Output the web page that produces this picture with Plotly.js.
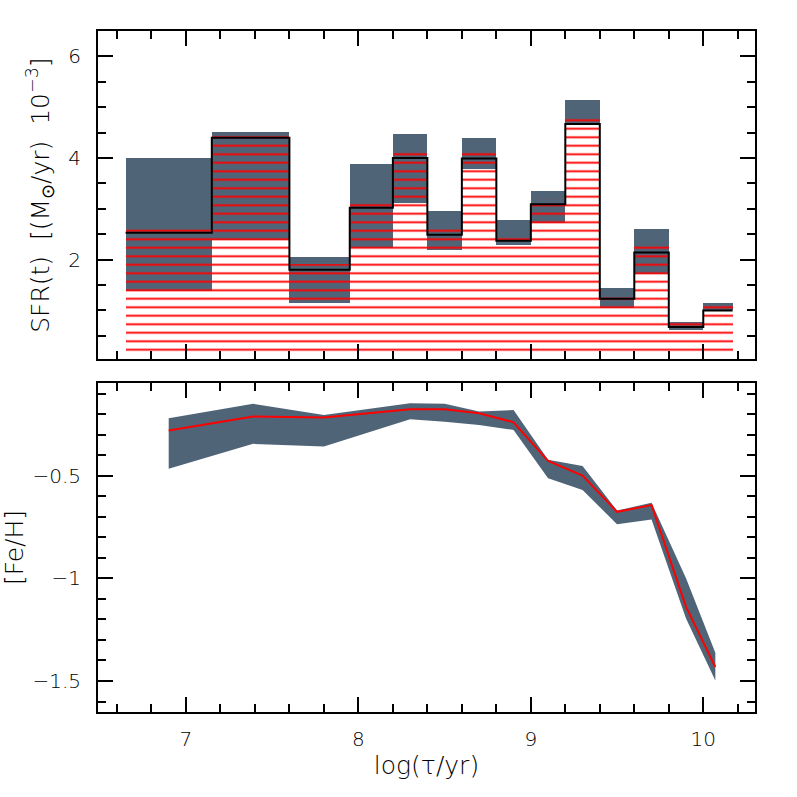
<!DOCTYPE html>
<html>
<head>
<meta charset="utf-8">
<script src="https://cdn.plot.ly/plotly-3.0.1.min.js"></script>
<style>html,body{margin:0;padding:0;background:#fff;}#chart{width:797px;height:797px;}</style>
</head>
<body>
<div id="chart"></div>
<script>
// ---- SFR histogram (top panel) ----
const binEdges = [6.65, 7.15, 7.60, 7.95, 8.20, 8.40, 8.60, 8.80, 9.00, 9.20, 9.40, 9.60, 9.80, 10.00, 10.17];
const sfr      = [2.53, 4.40, 1.80, 3.02, 4.00, 2.49, 3.99, 2.37, 3.09, 4.67, 1.23, 2.14, 0.675, 1.00];
const sfrUpper = [4.00, 4.52, 2.05, 3.89, 4.48, 2.95, 4.39, 2.79, 3.36, 5.15, 1.44, 2.61, 0.77, 1.15];
const sfrLower = [1.38, 2.38, 1.15, 2.23, 3.11, 2.19, 3.78, 2.28, 2.73, 4.67, 1.04, 1.71, 0.62, 1.00];

// ---- Age-metallicity relation (bottom panel) ----
const logAge   = [6.90, 7.39, 7.80, 8.30, 8.50, 8.70, 8.90, 9.10, 9.30, 9.50, 9.70, 9.90, 10.07];
const feh      = [-0.280, -0.212, -0.217, -0.176, -0.176, -0.196, -0.240, -0.428, -0.500, -0.676, -0.643, -1.139, -1.432];
const fehUpper = [-0.220, -0.150, -0.204, -0.147, -0.150, -0.188, -0.180, -0.423, -0.453, -0.670, -0.632, -1.000, -1.363];
const fehLower = [-0.466, -0.345, -0.358, -0.225, -0.237, -0.253, -0.277, -0.513, -0.570, -0.736, -0.713, -1.196, -1.497];

const topTicks = [2, 4, 6];
const botTicks = [-1.5, -1, -0.5];
const xTicks   = [7, 8, 9, 10];

const bandColor = '#506478';
const centers = [], widths = [], bandH = [];
for (let i = 0; i < sfr.length; i++) {
  centers.push((binEdges[i] + binEdges[i + 1]) / 2);
  widths.push(binEdges[i + 1] - binEdges[i]);
  bandH.push(sfrUpper[i] - sfrLower[i]);
}
const stepY = sfr.concat([sfr[sfr.length - 1]]);

const traces = [
  { type: 'bar', x: centers, y: bandH, base: sfrLower, width: widths,
    marker: { color: bandColor, line: { width: 0 } }, xaxis: 'x', yaxis: 'y', hoverinfo: 'skip' },
  { type: 'bar', x: centers, y: sfr, base: 0.12, width: widths,
    marker: { color: '#ff0000', line: { width: 0 },
      pattern: { shape: '-', size: 8.5, solidity: 0.22, fillmode: 'replace' } },
    xaxis: 'x', yaxis: 'y', hoverinfo: 'skip' },
  { type: 'scatter', mode: 'lines', x: binEdges, y: stepY,
    line: { color: '#000', width: 2, shape: 'hv' }, xaxis: 'x', yaxis: 'y' },
  { type: 'scatter', mode: 'lines', x: logAge, y: fehUpper,
    line: { width: 0, color: bandColor }, xaxis: 'x2', yaxis: 'y2' },
  { type: 'scatter', mode: 'lines', x: logAge, y: fehLower, fill: 'tonexty', fillcolor: bandColor,
    line: { width: 0, color: bandColor }, xaxis: 'x2', yaxis: 'y2' },
  { type: 'scatter', mode: 'lines', x: logAge, y: feh,
    line: { color: '#ff0000', width: 2 }, xaxis: 'x2', yaxis: 'y2' }
];

const tickFont = { family: 'DejaVu Sans, sans-serif', size: 20, color: '#000', weight: 200 };
const titleFont = { family: 'DejaVu Sans, sans-serif', size: 25, color: '#000', weight: 200 };
const commonX = {
  range: [6.49, 10.30], tickvals: xTicks, ticks: 'inside', ticklen: 15, tickwidth: 2, tickcolor: '#000',
  showline: true, linecolor: '#000', linewidth: 2, mirror: 'allticks', showgrid: false, zeroline: false,
  tickfont: tickFont,
  minor: { dtick: 0.2, tick0: 0, ticks: 'inside', ticklen: 8, tickwidth: 2, tickcolor: '#000', showgrid: false }
};
const layout = {
  width: 797, height: 797,
  margin: { l: 98, r: 42, t: 31, b: 85 },
  paper_bgcolor: '#fff', plot_bgcolor: '#fff',
  showlegend: false, barmode: 'overlay', bargap: 0,
  font: tickFont,
  xaxis: Object.assign({}, commonX, { anchor: 'y', showticklabels: false }),
  yaxis: {
    domain: [0.518, 1], range: [0.04, 6.5], tickvals: topTicks, ticks: 'inside', ticklen: 15, tickwidth: 2,
    tickcolor: '#000', showline: true, linecolor: '#000', linewidth: 2, mirror: 'allticks',
    showgrid: false, zeroline: false, ticklabelstandoff: 11, tickfont: tickFont,
    minor: { dtick: 0.5, tick0: 0, ticks: 'inside', ticklen: 8, tickwidth: 2, tickcolor: '#000', showgrid: false },
    title: { text: 'SFR(t)  [(M<sub>⊙</sub>/yr)  10<sup>−3</sup>]', font: titleFont, standoff: 12 }
  },
  xaxis2: Object.assign({}, commonX, { anchor: 'y2', ticklabelstandoff: 8,
    title: { text: 'log(τ/yr)', font: titleFont, standoff: 6 } }),
  yaxis2: {
    domain: [0, 0.483], range: [-1.651, -0.049], tickvals: botTicks, ticks: 'inside', ticklen: 15, tickwidth: 2,
    tickcolor: '#000', showline: true, linecolor: '#000', linewidth: 2, mirror: 'allticks', anchor: 'x2',
    showgrid: false, zeroline: false, ticklabelstandoff: 11, tickfont: tickFont,
    minor: { dtick: 0.1, tick0: 0, ticks: 'inside', ticklen: 8, tickwidth: 2, tickcolor: '#000', showgrid: false },
    title: { text: '[Fe/H]', font: titleFont, standoff: 12 }
  }
};
Plotly.newPlot('chart', traces, layout, { displayModeBar: false, staticPlot: true });
</script>
</body>
</html>
